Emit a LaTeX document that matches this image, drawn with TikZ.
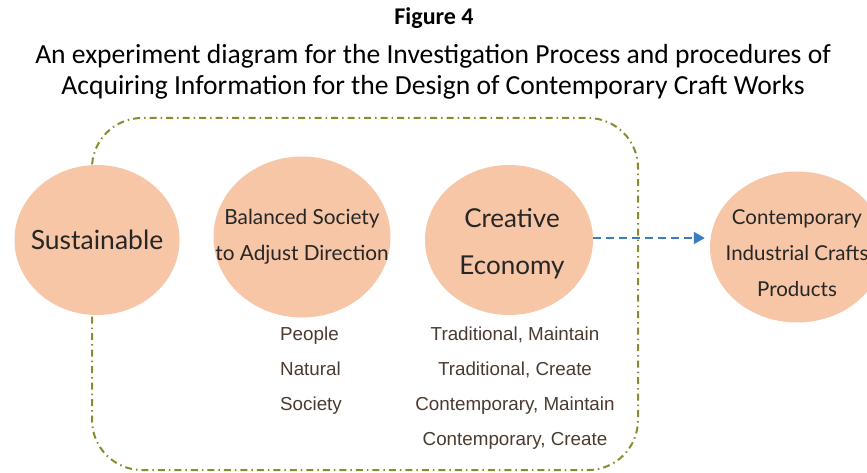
\documentclass[tikz,border=0pt]{standalone}
\usepackage{fontspec}
\setmainfont{Carlito}
\newfontfamily\bubblefont{Lato}
\newfontfamily\notefont{Liberation Sans}
\usetikzlibrary{shapes.geometric,arrows.meta,positioning}

\definecolor{peach}{HTML}{F6C6A6}
\definecolor{olive}{HTML}{8C8A30}
\definecolor{notebrown}{HTML}{4B3A30}
\definecolor{flowblue}{HTML}{3E7CC0}

\begin{document}
\begin{tikzpicture}[
        x=1pt, y=-1pt,
        bubble/.style={
            shape=ellipse,
            fill=peach,
            inner sep=0pt
        },
        bubbletext/.style={
            align=center,
            inner sep=0pt,
            text=black!85
        },
        note/.style={
            font=\notefont\fontsize{18.8}{35}\selectfont,
            text=notebrown,
            inner sep=0pt
        },
        frame/.style={draw=olive, line width=2pt, rounded corners=50pt,
            dash pattern=on 7pt off 4pt on 1.5pt off 4pt},
        flow/.style={draw=flowblue, line width=2pt,
            dash pattern=on 8pt off 5pt,
            -{Triangle[length=11pt,width=12pt]}}
    ]
    \useasboundingbox (0,0) rectangle (867,473);

    % TITULO
    \node[font=\fontsize{24}{31}\selectfont\bfseries] (fig) at (434,18) {Figure 4};
    \node[align=center, font=\fontsize{27.6}{31}\selectfont] (caption) at (433,72)
        {An experiment diagram for the Investigation Process and procedures of\\
         Acquiring Information for the Design of Contemporary Craft Works};

    % MOLDURA
    \draw[frame] (92,118) rectangle (638,470);

    % CIRCULOS
    \node[bubble, minimum width=165pt, minimum height=150pt] (sust) at (97,240) {};
    \node[bubble, minimum width=177pt, minimum height=161pt] (balance) at (302,237) {};
    \node[bubble, minimum width=168pt, minimum height=150pt] (creative) at (509,240) {};
    \node[bubble, minimum width=174pt, minimum height=151pt] (products) at (797,247) {};

    \node[bubbletext, font=\bubblefont\fontsize{26.5}{30}\selectfont] (sustlabel)
        at (sust) {Sustainable};
    \node[bubbletext, font=\bubblefont\fontsize{20.8}{36}\selectfont] (balancelabel)
        at (balance.center) {Balanced Society\\to Adjust Direction};
    \node[bubbletext, font=\bubblefont\fontsize{26}{47}\selectfont] (creativelabel)
        at ([xshift=3pt,yshift=-4pt]creative.center) {Creative\\Economy};
    \node[bubbletext, font=\bubblefont\fontsize{20.5}{36}\selectfont] (productslabel)
        at ([yshift=-6pt]products.center) {Contemporary\\Industrial Crafts\\Products};

    % LISTAS
    \node[note, align=left, anchor=north west] (balancelist) at (280,327)
        {People\\Natural\\Society};
    \node[note, align=center, anchor=north] (creativelist) at (515,327)
        {Traditional, Maintain\\Traditional, Create\\Contemporary, Maintain\\Contemporary, Create};

    % SETA
    \draw[flow, shorten >=5pt] ([yshift=2pt]creative.east)
        -- ([yshift=2pt]creative.east -| products.west);
\end{tikzpicture}
\end{document}
